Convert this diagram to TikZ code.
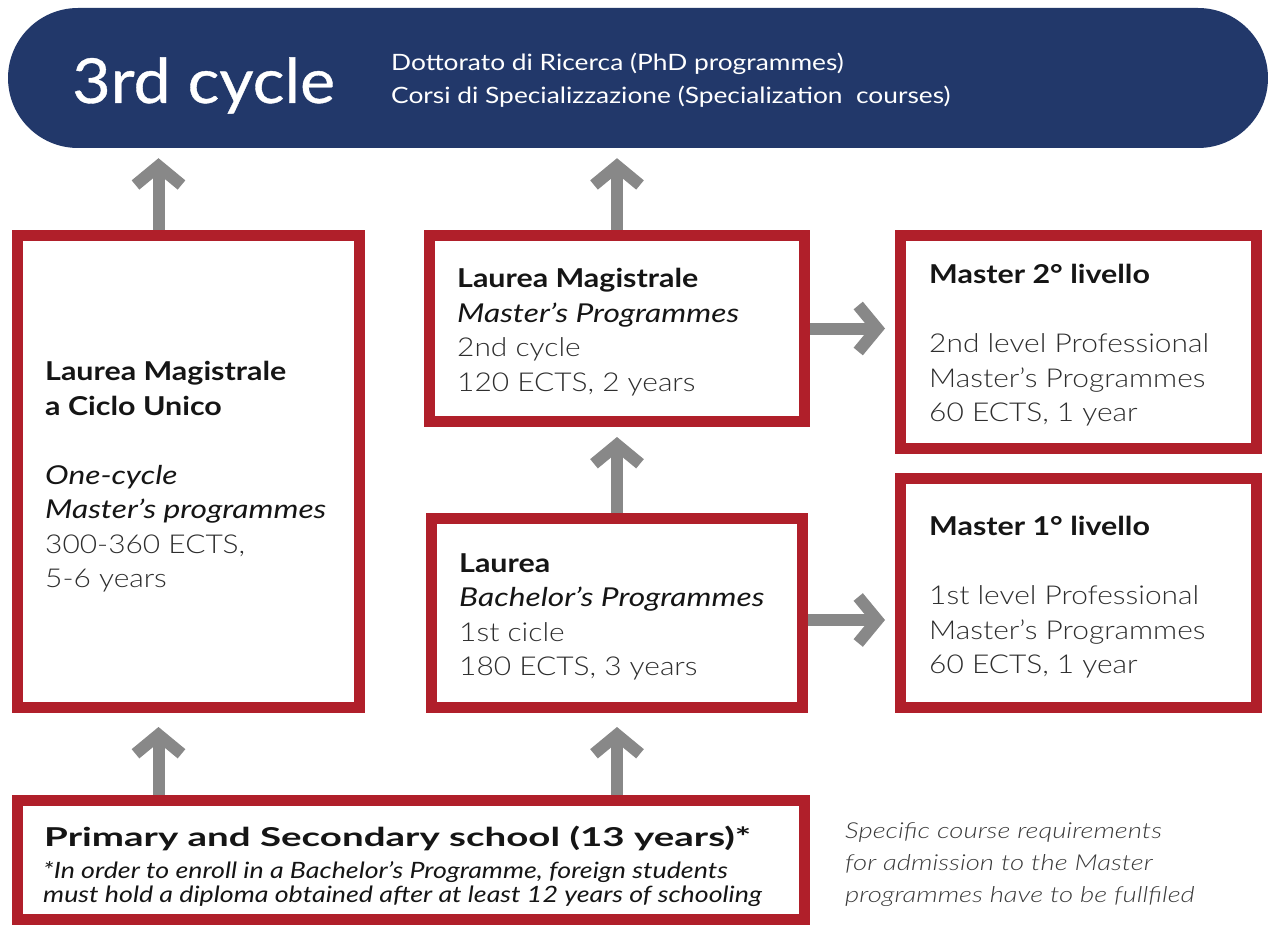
\documentclass[tikz,border=0pt]{standalone}
\usepackage{fontspec}
\setmainfont{Lato}
\newfontfamily\boldbody{Lato}[FakeStretch=1.17]
\newfontfamily\itbody{Lato}[FakeStretch=1.22]
\newfontfamily\lightbody{Lato Light}[FakeStretch=1.15]
\newfontfamily\titlefont{Lato}[FakeStretch=1.07,FakeBold=0.6]
\newfontfamily\subfont{Lato}[FakeStretch=1.17]
\newfontfamily\schoolbold{Lato}[FakeStretch=1.48]
\newfontfamily\schoolit{Lato}[FakeStretch=1.19]
\newfontfamily\noteit{Lato Light}[FakeStretch=1.25]
\usetikzlibrary{arrows.meta}
\definecolor{navy}{HTML}{22386A}
\definecolor{boxred}{HTML}{B01F2A}
\definecolor{arrgrey}{HTML}{888888}
\definecolor{txt}{HTML}{151515}
\definecolor{lighttxt}{HTML}{2E2E2E}
\definecolor{notetxt}{HTML}{3A3A3A}
\newcommand{\hb}[1]{{\boldbody\bfseries #1}}
\newcommand{\hi}[1]{{\itbody\itshape #1}}
\newcommand{\hl}[1]{{\lightbody\color{lighttxt}#1}}
\begin{document}
\begin{tikzpicture}[x=1pt,y=-1pt,
  redbox/.style={draw=boxred, line width=11pt, fill=white, rectangle, inner sep=0pt},
  boxtext/.style={anchor=north west, inner sep=0pt, align=left, text=txt, font=\fontsize{26}{34.5}\selectfont},
  garrow/.style={draw=arrgrey, line width=12pt, line join=miter, -{Straight Barb[length=19pt,width=46pt,line width=12pt]}}
]
\useasboundingbox (0,0) rectangle (1268,925);
% top pill
\node[fill=navy, rectangle, rounded corners=70pt, minimum width=1260pt, minimum height=140pt, inner sep=0pt] (pill) at (638,78) {};
\node[anchor=base west, inner sep=0pt, text=white, font=\titlefont\fontsize{62}{62}\selectfont] (ttl) at (72,103) {3rd cycle};
\node[anchor=north west, inner sep=0pt, align=left, text=white, font=\subfont\fontsize{22.5}{33}\selectfont] (sub) at (391,53) {Dottorato di Ricerca (PhD programmes)\\Corsi di Specializzazione (Specialization\ \ courses)};

% boxes
\node[redbox, minimum width=342pt, minimum height=472pt] (lm) at (188.5,471.5) {};
\node[redbox, minimum width=375pt, minimum height=186pt] (mt) at (617,328.5) {};
\node[redbox, minimum width=371pt, minimum height=189pt] (mb) at (617,613) {};
\node[redbox, minimum width=356pt, minimum height=213pt] (r2) at (1078.5,342) {};
\node[redbox, minimum width=356pt, minimum height=229pt] (r1) at (1078.5,593) {};
\node[redbox, minimum width=787pt, minimum height=119pt] (sc) at (411,860) {};

% texts
\node[boxtext] (lmT) at (45,361) {\hb{Laurea Magistrale}\\\hb{a Ciclo Unico}\\[34.5pt]\hi{One-cycle}\\\hi{Master’s programmes}\\\hl{300-360 ECTS,}\\\hl{5-6 years}};
\node[boxtext] (mtT) at (457,268) {\hb{Laurea Magistrale}\\\hi{Master’s Programmes}\\\hl{2nd cycle}\\\hl{120 ECTS, 2 years}};
\node[boxtext] (mbT) at (459,553) {\hb{Laurea}\\\hi{Bachelor’s Programmes}\\\hl{1st cicle}\\\hl{180 ECTS, 3 years}};
\node[boxtext] (r2T) at (929,264) {\hb{Master 2° livello}\\[34.5pt]\hl{2nd level Professional}\\\hl{Master’s Programmes}\\\hl{60 ECTS, 1 year}};
\node[boxtext] (r1T) at (929,516) {\hb{Master 1° livello}\\[34.5pt]\hl{1st level Professional}\\\hl{Master’s Programmes}\\\hl{60 ECTS, 1 year}};
\node[anchor=north west, inner sep=0pt, text=txt, font=\schoolbold\bfseries\fontsize{26}{32}\selectfont] (scA) at (44,826) {Primary and Secondary school (13 years)*};
\node[anchor=north west, inner sep=0pt, align=left, text=txt, font=\schoolit\itshape\fontsize{22.5}{24.5}\selectfont] (scB) at (43,861) {*In order to enroll in a Bachelor’s Programme, foreign students\\must hold a diploma obtained after at least 12 years of schooling};
\node[anchor=north west, inner sep=0pt, align=left, text=notetxt, font=\noteit\itshape\fontsize{22}{32}\selectfont] (note) at (845,822) {Specific course requirements\\for admission to the Master\\programmes have to be fullfiled};

% arrows
\draw[garrow] ([xshift=-30pt]lm.north) -- ([xshift=-30pt,yshift=-10pt]lm.north |- pill.south);
\draw[garrow] (mt.north) -- ([yshift=-10pt]mt.north |- pill.south);
\draw[garrow] (mb.north) -- ([yshift=-10pt]mt.south);
\draw[garrow] (mt.east) -- ([xshift=-10pt]mt.east -| r2.west);
\draw[garrow] ([yshift=-7pt]mb.east) -- ([xshift=-10pt,yshift=-7pt]mb.east -| r1.west);
\draw[garrow] ([xshift=-30pt]lm.south |- sc.north) -- ([xshift=-30pt,yshift=-14pt]lm.south);
\draw[garrow] (mb.south |- sc.north) -- ([yshift=-14pt]mb.south);
\end{tikzpicture}
\end{document}
